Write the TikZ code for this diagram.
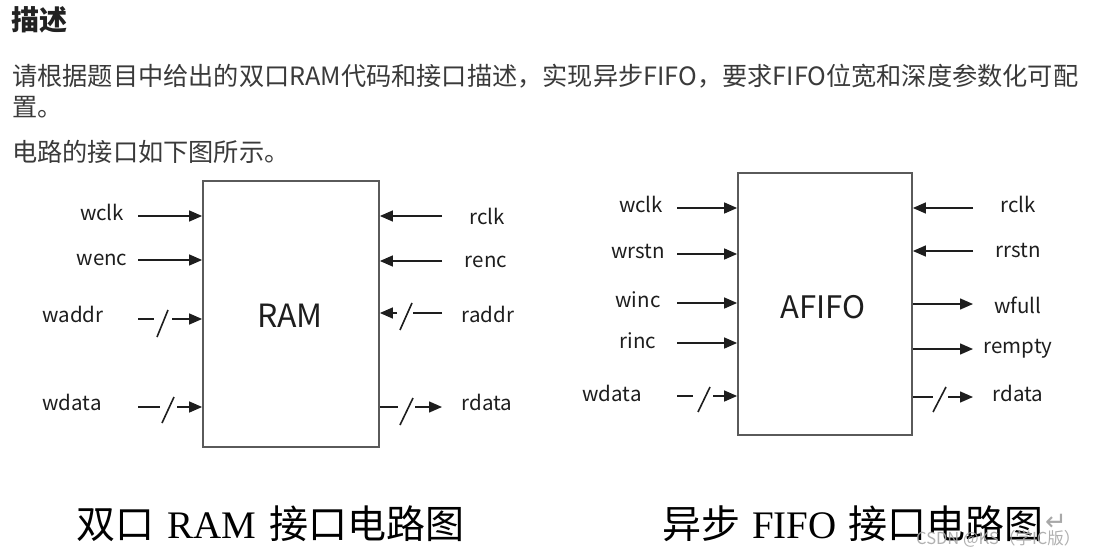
\documentclass[tikz,border=0pt]{standalone}
\usepackage{fontspec}
\setmainfont{Noto Sans CJK SC}
\newfontfamily\cjk{Noto Sans CJK SC}
\newfontfamily\serifcap{Liberation Serif}
\newfontfamily\symfont{DejaVu Sans}
\usetikzlibrary{arrows.meta,calc}
\definecolor{txt}{HTML}{3A3A3A}
\definecolor{ttl}{HTML}{222222}
\definecolor{ln}{HTML}{1E1E1E}
\definecolor{boxc}{HTML}{5A5A5A}
\definecolor{wm}{HTML}{A8A8A8}
\begin{document}
\begin{tikzpicture}[x=1pt,y=-1pt,
  sig/.style={line width=1.4pt, draw=ln},
  arr/.style={sig,-{Triangle[length=13pt,width=11pt]}},
  slashline/.style={line width=1.6pt, draw=ln},
  port/.style={font=\fontsize{20.5}{21}\selectfont, text=ln, anchor=base, inner sep=0pt},
  blk/.style={draw=boxc, line width=1.8pt, fill=white, inner sep=0pt},
  body/.style={anchor=base west, inner sep=0pt, text=txt, font=\fontsize{25.2}{28}\selectfont},
  captxt/.style={anchor=base west, inner sep=0pt, text=black, font=\fontsize{39}{40}\selectfont}]
\useasboundingbox[fill=white] (0,0) rectangle (1110,556);

% ---------- text block ----------
\node[anchor=base west, inner sep=0pt, text=ttl, font=\fontsize{28}{30}\selectfont\bfseries] (title) at (11,31) {描述};
\node[body] (l1) at (12,86) {请根据题目中给出的双口RAM代码和接口描述，实现异步FIFO，要求FIFO位宽和深度参数化可配};
\node[body] (l2) at (12,117) {置。};
\node[body] (l3) at (12,162) {电路的接口如下图所示。};

% ---------- RAM ----------
\node[blk, minimum width=176pt, minimum height=266pt] (ram) at (291,314) {};
\node[anchor=base, inner sep=0pt, text=ln, font=\fontsize{32}{32}\selectfont] (ramlbl) at (290,327) {RAM};

\coordinate (r-wclk) at (138,216);
\coordinate (r-wenc) at (138,260);
\coordinate (r-waddr) at (138,319);
\coordinate (r-wdata) at (138,407);
\coordinate (r-rclk) at (442,216);
\coordinate (r-renc) at (442,261);
\coordinate (r-raddr) at (442,313);
\coordinate (r-rdata) at (442,407);

\draw[arr] (r-wclk) -- (r-wclk -| ram.west);
\draw[arr] (r-wenc) -- (r-wenc -| ram.west);
\draw[sig] (r-waddr) -- ++(16,0);
\draw[slashline] ($(r-waddr)+(19,18)$) -- ++(11,-27);
\draw[arr] ($(r-waddr)+(34,0)$) -- (r-waddr -| ram.west);
\draw[sig] (r-wdata) -- ++(22,0);
\draw[slashline] ($(r-wdata)+(24,16)$) -- ++(12,-26);
\draw[arr] ($(r-wdata)+(39,0)$) -- (r-wdata -| ram.west);

\draw[arr] (r-rclk) -- (r-rclk -| ram.east);
\draw[arr] (r-renc) -- (r-renc -| ram.east);
\draw[sig] (r-raddr) -- ++(-29,0);
\draw[slashline] ($(r-raddr)+(-42,17)$) -- ++(12,-27);
\draw[arr] ($(r-raddr)+(-45,0)$) -- (r-raddr -| ram.east);
\draw[sig] (ram.east |- r-rdata) -- ++(18,0);
\draw[slashline] ($(r-rdata)+(-42,18)$) -- ++(13,-27);
\draw[arr] ($(r-rdata)+(-27,0)$) -- (r-rdata);

\node[port] (t-rwclk) at (102,220) {wclk};
\node[port] (t-rwenc) at (102,265) {wenc};
\node[port] (t-rwaddr) at (73,322) {waddr};
\node[port] (t-rwdata) at (72,410) {wdata};
\node[port] (t-rrclk) at (487,224) {rclk};
\node[port] (t-rrenc) at (486,267) {renc};
\node[port] (t-rraddr) at (488,322) {raddr};
\node[port] (t-rrdata) at (487,410) {rdata};

% ---------- AFIFO ----------
\node[blk, minimum width=174pt, minimum height=262pt] (fifo) at (825,304) {};
\node[anchor=base, inner sep=0pt, text=ln, font=\fontsize{31}{31}\selectfont] (fifolbl) at (823,318) {AFIFO};

\coordinate (f-wclk) at (677,208);
\coordinate (f-wrstn) at (677,254);
\coordinate (f-winc) at (677,303);
\coordinate (f-rinc) at (677,343);
\coordinate (f-wdata) at (677,396);
\coordinate (f-rclk) at (973,208);
\coordinate (f-rrstn) at (973,251);
\coordinate (f-wfull) at (973,304);
\coordinate (f-rempty) at (973,349);
\coordinate (f-rdata) at (973,397);

\draw[arr] (f-wclk) -- (f-wclk -| fifo.west);
\draw[arr] (f-wrstn) -- (f-wrstn -| fifo.west);
\draw[arr] (f-winc) -- (f-winc -| fifo.west);
\draw[arr] (f-rinc) -- (f-rinc -| fifo.west);
\draw[sig] (f-wdata) -- ++(16,0);
\draw[slashline] ($(f-wdata)+(21,16)$) -- ++(12,-25);
\draw[arr] ($(f-wdata)+(36,0)$) -- (f-wdata -| fifo.west);

\draw[arr] (f-rclk) -- (f-rclk -| fifo.east);
\draw[arr] (f-rrstn) -- (f-rrstn -| fifo.east);
\draw[arr] (fifo.east |- f-wfull) -- (f-wfull);
\draw[arr] (fifo.east |- f-rempty) -- (f-rempty);
\draw[sig] (fifo.east |- f-rdata) -- ++(20,0);
\draw[slashline] ($(f-rdata)+(-40,15)$) -- ++(13,-25);
\draw[arr] ($(f-rdata)+(-25,0)$) -- (f-rdata);

\node[port] (t-fwclk) at (641,212) {wclk};
\node[port] (t-fwrstn) at (638,258) {wrstn};
\node[port] (t-fwinc) at (638,307) {winc};
\node[port] (t-frinc) at (638,348) {rinc};
\node[port] (t-fwdata) at (612,401) {wdata};
\node[port] (t-frclk) at (1018,212) {rclk};
\node[port] (t-frrstn) at (1018,257) {rrstn};
\node[port] (t-fwfull) at (1018,313) {wfull};
\node[port] (t-frempty) at (1018,353) {rempty};
\node[port] (t-frdata) at (1018,401) {rdata};

% ---------- captions ----------
\node[captxt] (cap1) at (76,538) {双口\hspace{13pt}{\serifcap RAM}\hspace{13pt}接口电路图};
\node[captxt] (cap2) at (662,538) {异步\hspace{12pt}{\serifcap FIFO}\hspace{12pt}接口电路图};
\node[anchor=base west, inner sep=0pt, text=wm, font=\symfont\fontsize{26}{26}\selectfont] (ret) at (1045,530) {↵};
\node[anchor=base west, inner sep=0pt, text=wm, opacity=0.9, font=\fontsize{16.5}{17}\selectfont] (wmk) at (916,544) {CSDN @KS（学IC版）};
\end{tikzpicture}
\end{document}
